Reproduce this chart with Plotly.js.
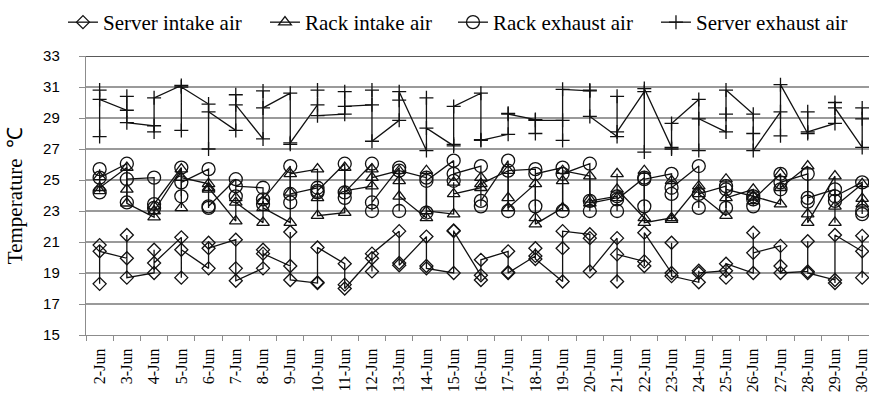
<!DOCTYPE html>
<html>
<head>
<meta charset="utf-8">
<script src="https://cdn.plot.ly/plotly-3.0.1.min.js"></script>
<style>
  html, body { margin: 0; padding: 0; background: #fff; }
  #chart { width: 869px; height: 403px; }
</style>
</head>
<body>
<div id="chart"></div>
<script>
// Daily categories (three readings per day for each measuring point)
const days = ['2-Jun','3-Jun','4-Jun','5-Jun','6-Jun','7-Jun','8-Jun','9-Jun','10-Jun',
  '11-Jun','12-Jun','13-Jun','14-Jun','15-Jun','16-Jun','17-Jun','18-Jun','19-Jun',
  '20-Jun','21-Jun','22-Jun','23-Jun','24-Jun','25-Jun','26-Jun','27-Jun','28-Jun',
  '29-Jun','30-Jun'];

const yTicks = [15, 17, 19, 21, 23, 25, 27, 29, 31, 33];

// Temperatures in °C, one row of readings per day
const serverIntake = [
  [20.8, 18.3, 20.4], [19.95, 21.45, 18.7], [19.0, 20.5, 19.65], [21.3, 18.7, 20.5],
  [19.3, 20.95, 20.6], [21.15, 19.3, 18.5], [19.3, 20.5, 20.25], [19.45, 21.65, 18.55],
  [18.35, 18.4, 20.65], [19.6, 18.25, 18.0], [19.95, 19.1, 20.25], [21.7, 19.65, 19.5],
  [21.35, 19.45, 19.3], [19.0, 21.75, 21.7], [18.85, 18.55, 19.85], [20.4, 19.05, 19.0],
  [20.1, 20.6, 19.9], [18.45, 20.6, 21.7], [21.5, 21.25, 19.1], [21.25, 18.45, 20.2],
  [19.75, 19.45, 21.6], [19.0, 20.95, 18.8], [18.4, 19.15, 19.0], [19.15, 18.7, 19.6],
  [19.0, 21.6, 20.3], [20.75, 19.45, 19.0], [19.1, 21.05, 19.0], [18.55, 18.35, 21.45],
  [20.4, 18.7, 21.4]
];

const rackIntake = [
  [25.2, 24.3, 24.5], [25.8, 24.4, 23.5], [22.6, 23.3, 23.0], [25.7, 23.2, 25.15],
  [24.75, 24.4, 24.5], [22.35, 23.85, 23.55], [22.25, 23.65, 23.2], [22.25, 24.2, 25.4],
  [25.7, 23.85, 22.7], [22.9, 25.8, 24.3], [24.6, 25.7, 25.15], [25.6, 24.95, 23.95],
  [22.55, 25.6, 23.0], [22.8, 24.85, 24.1], [24.5, 25.15, 24.75], [25.6, 23.85, 23.2],
  [24.75, 22.55, 22.15], [23.2, 24.95, 25.6], [25.25, 23.75, 23.5], [23.85, 25.4, 24.4],
  [22.55, 25.6, 22.25], [22.55, 24.95, 22.45], [24.6, 24.4, 24.1], [22.7, 25.05, 23.85],
  [24.4, 23.65, 23.95], [23.45, 25.4, 24.5], [25.9, 22.8, 22.25], [25.25, 22.25, 23.3],
  [24.75, 23.45, 23.8]
];

const rackExhaust = [
  [25.7, 24.2, 25.15], [26.05, 23.55, 25.05], [25.15, 23.2, 23.45], [25.8, 23.95, 24.85],
  [25.7, 23.2, 23.3], [25.05, 23.95, 24.6], [24.5, 23.45, 23.75], [25.9, 23.55, 24.1],
  [24.5, 24.2, 24.3], [26.05, 23.85, 24.2], [26.05, 23.0, 23.55], [25.8, 23.0, 25.6],
  [25.15, 22.9, 24.95], [26.25, 24.95, 25.4], [25.9, 23.3, 23.65], [26.25, 23.0, 25.6],
  [25.7, 23.3, 25.4], [25.8, 23.0, 25.4], [26.05, 23.0, 23.65], [23.95, 23.0, 23.75],
  [25.15, 23.3, 25.05], [25.4, 24.1, 24.5], [25.9, 23.2, 24.1], [24.6, 23.2, 24.4],
  [23.95, 23.3, 23.75], [25.4, 24.4, 24.85], [25.4, 23.6, 23.85], [24.4, 23.65, 23.95],
  [24.85, 22.8, 23.0]
];

const serverExhaust = [
  [30.8, 27.8, 30.2], [29.5, 30.4, 28.7], [28.5, 28.1, 30.3], [31.1, 28.2, 31.0],
  [29.9, 27.0, 29.4], [28.2, 30.5, 29.85], [27.65, 30.75, 29.65], [30.6, 27.3, 27.4],
  [29.85, 30.8, 29.15], [29.25, 30.7, 29.75], [29.85, 30.8, 27.5], [28.85, 30.15, 30.7],
  [26.9, 30.3, 28.35], [27.2, 27.3, 29.75], [30.6, 27.6, 27.55], [27.95, 29.3, 29.25],
  [28.9, 28.0, 28.85], [28.85, 27.55, 30.85], [30.75, 30.8, 29.1], [27.8, 30.4, 28.1],
  [30.7, 26.8, 30.9], [27.1, 27.0, 28.65], [30.2, 26.9, 28.95], [28.1, 29.25, 30.8],
  [29.25, 28.0, 26.9], [29.4, 27.85, 31.15], [28.0, 29.4, 28.1], [28.65, 30.0, 29.65],
  [27.1, 29.65, 28.95]
];

// Flatten a day-by-day table into x/y pairs on the category axis
function toXY(rows) {
  const x = [], y = [];
  rows.forEach((vals, i) => vals.forEach(v => { x.push(days[i]); y.push(v); }));
  return { x, y };
}

const ink = '#111';
function makeTrace(name, rows, symbol, size, entryWidth) {
  const xy = toXY(rows);
  return {
    type: 'scatter',
    mode: 'lines+markers',
    name: name,
    x: xy.x,
    y: xy.y,
    legendwidth: entryWidth,
    line: { color: ink, width: 1.3 },
    marker: { symbol: symbol, size: size, color: ink, line: { color: ink, width: 1.3 } }
  };
}

const data = [
  makeTrace('Server intake air', serverIntake, 'diamond-open', 10, 157),
  makeTrace('Rack intake air', rackIntake, 'triangle-up-open', 11, 143),
  makeTrace('Rack exhaust air', rackExhaust, 'circle-open', 13, 158),
  makeTrace('Server exhaust air', serverExhaust, 'cross-thin-open', 10, 155)
];

const serif = 'Liberation Serif, Times New Roman, serif';
const sans = 'Liberation Sans, Arial, sans-serif';

const layout = {
  width: 869,
  height: 403,
  margin: { l: 86, r: 0, t: 56, b: 68 },
  paper_bgcolor: '#fff',
  plot_bgcolor: '#fff',
  showlegend: true,
  legend: {
    orientation: 'h',
    x: -0.0294, y: 1.1935, xanchor: 'left', yanchor: 'top',
    font: { family: serif, size: 21, color: '#000' },
    bgcolor: 'rgba(0,0,0,0)',
    itemclick: false
  },
  xaxis: {
    type: 'category',
    categoryorder: 'array',
    categoryarray: days,
    range: [-0.5, 28.25],
    tickson: 'boundaries',
    ticks: 'outside',
    ticklen: 5,
    tickcolor: '#8c8c8c',
    tickwidth: 1,
    tickangle: -90,
    tickfont: { family: serif, size: 16, color: '#000' },
    ticklabelstandoff: 6,
    showgrid: false,
    showline: true,
    linecolor: '#8c8c8c',
    linewidth: 1.2,
    zeroline: false,
    fixedrange: true
  },
  yaxis: {
    range: [15, 33],
    tickvals: yTicks,
    ticktext: yTicks.map(String),
    ticks: 'outside',
    ticklen: 6,
    tickcolor: '#8c8c8c',
    tickfont: { family: sans, size: 15, color: '#000' },
    ticklabelstandoff: 16,
    showgrid: true,
    gridcolor: '#9a9a9a',
    gridwidth: 1.3,
    showline: true,
    linecolor: '#8c8c8c',
    linewidth: 1.2,
    zeroline: false,
    title: { text: 'Temperature  ℃', font: { family: serif, size: 21, color: '#000' }, standoff: 14 },
    fixedrange: true
  },
  shapes: [{
    type: 'line', xref: 'paper', yref: 'y',
    x0: 0, x1: 1, y0: 33, y1: 33,
    line: { color: '#222', width: 1.3 },
    layer: 'above'
  }]
};

Plotly.newPlot('chart', data, layout, { displayModeBar: false, staticPlot: true });
</script>
</body>
</html>
